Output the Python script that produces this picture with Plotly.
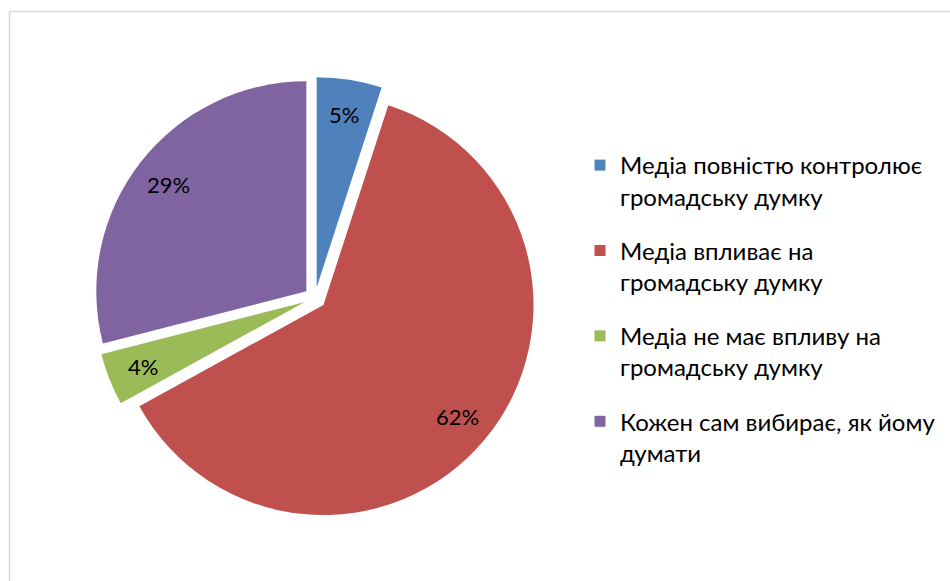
import numpy as np
import plotly.graph_objects as go

labels = [
    "Медіа повністю контролює<br>громадську думку",
    "Медіа впливає на<br>громадську думку",
    "Медіа не має впливу на<br>громадську думку",
    "Кожен сам вибирає, як йому<br>думати",
]
values = [5, 62, 4, 29]
colors = ["#4F81BD", "#C0504D", "#9BBB59", "#8064A2"]

W, H = 950, 581
PULL = 0.052
# pie box in pixels (left, right, top, bottom)
BOX = (94, 536, 77, 519)
LABEL_R = 0.83  # label distance from slice tip, as a fraction of radius

fig = go.Figure()

fig.add_trace(
    go.Pie(
        labels=labels,
        values=values,
        sort=False,
        direction="clockwise",
        rotation=0,
        pull=PULL,
        marker=dict(colors=colors, line=dict(width=0)),
        textinfo="none",
        domain=dict(x=[BOX[0] / W, BOX[1] / W], y=[1 - BOX[3] / H, 1 - BOX[2] / H]),
        hoverinfo="label+percent",
        showlegend=False,
    )
)

# legend entries, one group per category so the entries can be spaced apart
for lab, col in zip(labels, colors):
    fig.add_trace(
        go.Scatter(
            x=[None],
            y=[None],
            mode="markers",
            name=lab,
            legendgroup=lab,
            marker=dict(symbol="square", size=11, color=col, line=dict(width=0)),
            hoverinfo="skip",
        )
    )

# percentage labels placed along each slice's bisector
cx = (BOX[0] + BOX[1]) / 2
cy = (BOX[2] + BOX[3]) / 2
r = (BOX[1] - BOX[0]) / 2 / (1 + PULL)
vals = np.array(values, dtype=float)
shares = vals / vals.sum()
ends = np.cumsum(shares) * 2 * np.pi
mids = ends - shares * np.pi
annotations = []
for v, th in zip(values, mids):
    dx, dy = np.sin(th), -np.cos(th)
    px = cx + (PULL + LABEL_R) * r * dx
    py = cy + (PULL + LABEL_R) * r * dy
    annotations.append(
        dict(
            x=px / W,
            y=1 - py / H,
            xref="paper",
            yref="paper",
            text=f"{v}%",
            showarrow=False,
            xanchor="center",
            yanchor="middle",
            font=dict(family="Lato", size=22, color="#000000"),
        )
    )

fig.update_layout(
    width=W,
    height=H,
    margin=dict(l=0, r=0, t=0, b=0),
    paper_bgcolor="white",
    plot_bgcolor="white",
    xaxis=dict(visible=False),
    yaxis=dict(visible=False),
    showlegend=True,
    legend=dict(
        x=580 / W,
        y=1 - 143 / H,
        xanchor="left",
        yanchor="top",
        valign="top",
        font=dict(family="Lato", size=24, color="#000000"),
        bgcolor="rgba(0,0,0,0)",
        tracegroupgap=20,
        traceorder="grouped",
    ),
    annotations=annotations,
    shapes=[
        dict(
            type="rect",
            xref="paper",
            yref="paper",
            x0=9.5 / W,
            x1=1.02,
            y0=-0.02,
            y1=1 - 11.5 / H,
            line=dict(color="#D9D9D9", width=1.5),
            fillcolor="rgba(0,0,0,0)",
            layer="below",
        )
    ],
)

fig.write_html("out.html")
